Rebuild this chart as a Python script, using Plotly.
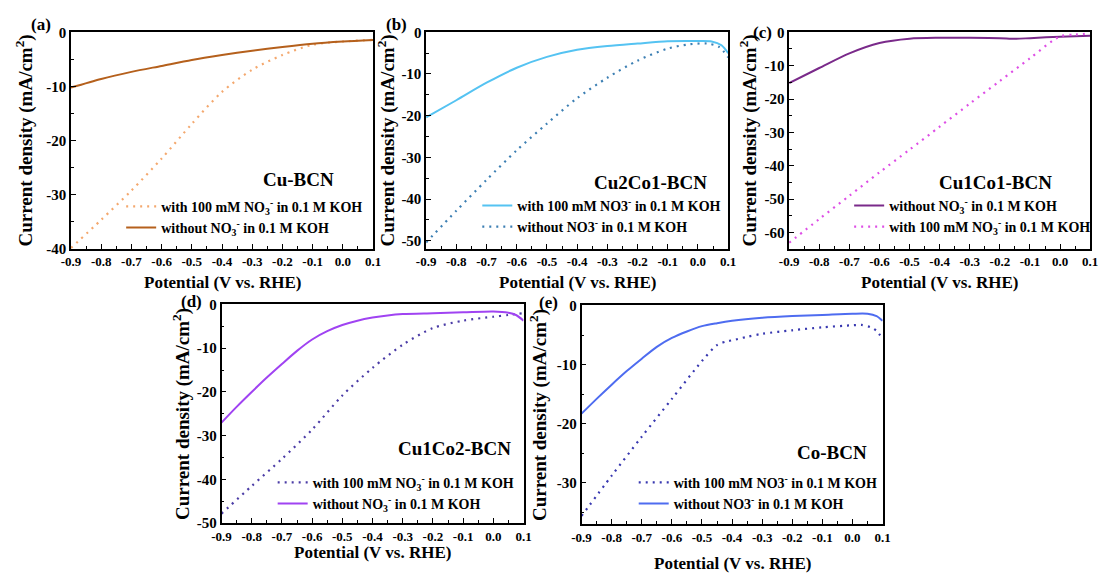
import plotly.graph_objects as go

W, H = 1109, 573

# ---------------- data ----------------
V = [-0.9, -0.8, -0.7, -0.6, -0.5, -0.4, -0.3, -0.2, -0.1, 0.0, 0.1]

# (a) Cu-BCN
a_with_x = [-0.9, -0.8, -0.7, -0.6, -0.5, -0.4, -0.3, -0.2, -0.1, 0.0, 0.1]
a_with_y = [-39.8, -34.6, -29.2, -23.3, -16.9, -11.0, -6.9, -4.2, -2.3, -1.7, -1.4]
a_without_x = V
a_without_y = [-10.2, -8.6, -7.3, -6.2, -5.1, -4.2, -3.4, -2.7, -2.1, -1.7, -1.4]

# (b) Cu2Co1-BCN
b_with_x = [-0.9, -0.8, -0.7, -0.6, -0.5, -0.4, -0.3, -0.2, -0.1, 0.0, 0.045, 0.078, 0.1]
b_with_y = [-20.4, -16.3, -12.1, -8.5, -5.9, -4.2, -3.3, -2.7, -2.15, -2.1, -2.2, -3.1, -5.0]
b_without_x = [-0.9, -0.8, -0.7, -0.6, -0.5, -0.4, -0.3, -0.2, -0.1, -0.03, 0.03, 0.07, 0.1]
b_without_y = [-50.4, -42.8, -35.4, -28.3, -21.9, -15.8, -10.9, -6.8, -3.9, -2.9, -2.7, -3.5, -6.0]

# (c) Cu1Co1-BCN
c_without_x = [-0.9, -0.8, -0.7, -0.6, -0.5, -0.4, -0.3, -0.2, -0.15, -0.1, 0.0, 0.1]
c_without_y = [-15.2, -10.7, -6.3, -3.2, -1.9, -1.65, -1.65, -1.75, -1.95, -1.75, -1.3, -1.0]
c_with_x = [-0.9, -0.8, -0.7, -0.6, -0.5, -0.4, -0.3, -0.2, -0.1, 0.0, 0.05, 0.1]
c_with_y = [-63.1, -56.0, -49.0, -42.0, -35.2, -28.3, -21.4, -14.6, -7.8, -1.2, -0.7, -0.4]

# (d) Cu1Co2-BCN
d_with_x = [-0.9, -0.8, -0.7, -0.6, -0.5, -0.4, -0.3, -0.2, -0.1, 0.0, 0.05, 0.1]
d_with_y = [-47.8, -41.5, -35.3, -28.6, -20.8, -14.5, -9.2, -5.4, -3.7, -2.8, -2.4, -2.0]
d_without_x = [-0.9, -0.85, -0.8, -0.75, -0.7, -0.65, -0.6, -0.55, -0.5, -0.45, -0.4, -0.35, -0.3,
               -0.2, -0.1, 0.0, 0.05, 0.075, 0.1]
d_without_y = [-27.0, -23.4, -20.0, -16.7, -13.6, -10.6, -8.0, -6.1, -4.7, -3.7, -3.0, -2.5, -2.2,
               -2.0, -1.8, -1.6, -1.9, -2.4, -3.7]

# (e) Co-BCN
e_with_x = [-0.9, -0.8, -0.7, -0.6, -0.5, -0.45, -0.42, -0.4, -0.35, -0.3, -0.2, -0.1, 0.0, 0.03, 0.06, 0.08, 0.1]
e_with_y = [-35.6, -28.8, -22.2, -15.8, -9.4, -6.7, -6.1, -5.9, -5.3, -4.8, -4.2, -3.7, -3.35, -3.3, -3.7, -4.3, -5.7]
e_without_x = [-0.9, -0.85, -0.8, -0.75, -0.7, -0.65, -0.6, -0.55, -0.5, -0.45, -0.4,
               -0.3, -0.2, -0.1, 0.0, 0.05, 0.08, 0.1]
e_without_y = [-18.3, -15.8, -13.4, -11.1, -9.0, -7.0, -5.5, -4.4, -3.5, -3.0, -2.6,
               -2.1, -1.8, -1.6, -1.4, -1.4, -1.8, -2.6]

x_tickvals = [-0.9, -0.8, -0.7, -0.6, -0.5, -0.4, -0.3, -0.2, -0.1, 0.0, 0.1]
x_ticktext = ["-0.9", "-0.8", "-0.7", "-0.6", "-0.5", "-0.4", "-0.3", "-0.2", "-0.1", "0.0", "0.1"]

a_yticks = [0, -10, -20, -30, -40]
b_yticks = [0, -10, -20, -30, -40, -50]
c_yticks = [0, -10, -20, -30, -40, -50, -60]
d_yticks = [0, -10, -20, -30, -40, -50]
e_yticks = [0, -10, -20, -30]

samples = ["Cu-BCN", "Cu2Co1-BCN", "Cu1Co1-BCN", "Cu1Co2-BCN", "Co-BCN"]
panel_tags = ["(a)", "(b)", "(c)", "(d)", "(e)"]

LBL_WITH_SUB = "with 100 mM NO<sub>3</sub><sup>-</sup> in 0.1 M KOH"
LBL_WITHOUT_SUB = "without NO<sub>3</sub><sup>-</sup> in 0.1 M KOH"
LBL_WITH_PLAIN = "with 100 mM NO3<sup>-</sup> in 0.1 M KOH"
LBL_WITHOUT_PLAIN = "without NO3<sup>-</sup> in 0.1 M KOH"

# ---------------- layout helpers ----------------
FONT = "'Liberation Serif', 'Times New Roman', Times, serif"
DOT = "2px,5px"

def px_x(p):
    return p / W

def px_y(p):
    return 1 - p / H

# plot rectangles in pixels: left, right, top, bottom
panels = [
    dict(box=(62, 369, 25, 248), yr=[-40, 0], yt=a_yticks, leg=(113, 188)),
    dict(box=(423, 730, 25, 248), yr=[-52, 0], yt=b_yticks, leg=(475, 187)),
    dict(box=(792, 1098, 25, 248), yr=[-65, 0], yt=c_yticks, leg=(853, 187)),
    dict(box=(215, 522, 305, 530), yr=[-50, 0], yt=d_yticks, leg=(267, 472)),
    dict(box=(581, 887, 306, 531), yr=[-37, 0], yt=e_yticks, leg=(634, 472)),
]

series = [
    [(a_with_x, a_with_y, "#f4a86e", DOT, LBL_WITH_SUB),
     (a_without_x, a_without_y, "#b5601c", "solid", LBL_WITHOUT_SUB)],
    [(b_with_x, b_with_y, "#55c3f2", "solid", LBL_WITH_PLAIN),
     (b_without_x, b_without_y, "#3c7fb3", DOT, LBL_WITHOUT_PLAIN)],
    [(c_without_x, c_without_y, "#7a2a8a", "solid", LBL_WITHOUT_SUB),
     (c_with_x, c_with_y, "#de4fe6", DOT, LBL_WITH_SUB)],
    [(d_with_x, d_with_y, "#4b3ca6", DOT, LBL_WITH_SUB),
     (d_without_x, d_without_y, "#a043f2", "solid", LBL_WITHOUT_SUB)],
    [(e_with_x, e_with_y, "#3838b0", DOT, LBL_WITH_PLAIN),
     (e_without_x, e_without_y, "#4e6cf0", "solid", LBL_WITHOUT_PLAIN)],
]

tag_pos = [(32, 17), (393, 17), (765, 25), (184, 302), (547, 303)]
sample_pos = [(293, 176), (651, 180), (1002, 180), (452, 453), (836, 457)]
ytitle_x = [15, 383, 751, 175, 538]
# x-title placement: (pixel y, anchor, yshift)
xtitle_y = [(282, "middle", 0), (282, "middle", 0), (282, "middle", 0), (552, "middle", -8), (565, "middle", -6)]

fig = go.Figure()
layout = dict(
    width=W, height=H, margin=dict(l=0, r=0, t=0, b=0),
    paper_bgcolor="white", plot_bgcolor="white",
    font=dict(family=FONT, color="black"),
    annotations=[],
)

for i, (p, ser) in enumerate(zip(panels, series)):
    n = i + 1
    sfx = "" if n == 1 else str(n)
    L, R, T, B = p["box"]
    legname = "legend" if n == 1 else f"legend{n}"
    for (xs, ys, col, dash, name) in ser:
        fig.add_trace(go.Scatter(
            x=xs, y=ys, mode="lines", name=name,
            line=dict(color=col, width=2 if dash == "solid" else 2.2, dash=dash, shape="spline", smoothing=0.8),
            xaxis=f"x{sfx}", yaxis=f"y{sfx}", legend=legname, showlegend=True,
            cliponaxis=True,
        ))
    axcommon = dict(
        showline=True, linecolor="black", linewidth=1.5, mirror=True,
        ticks="inside", ticklen=5, tickwidth=1.3, tickcolor="black",
        showgrid=False, zeroline=False,
    )
    layout[f"xaxis{sfx}"] = dict(
        domain=[px_x(L), px_x(R)], anchor=f"y{sfx}", range=[-0.9, 0.1],
        tickvals=x_tickvals, ticktext=x_ticktext,
        tickfont=dict(family=FONT, size=13, weight="bold", color="black"),
        minor=dict(ticks="inside", ticklen=3, tickwidth=1.1, dtick=0.05, tick0=0, tickcolor="black", showgrid=False),
        **axcommon,
    )
    layout[f"yaxis{sfx}"] = dict(
        domain=[px_y(B), px_y(T)], anchor=f"x{sfx}", range=p["yr"],
        tickvals=p["yt"], ticktext=[str(v) for v in p["yt"]],
        tickfont=dict(family=FONT, size=15, weight="bold", color="black"),
        minor=dict(ticks="inside", ticklen=3, tickwidth=1.1, dtick=5, tick0=0, tickcolor="black", showgrid=False),
        **axcommon,
    )
    lx, ly = p["leg"]
    layout[legname] = dict(
        x=px_x(lx), y=px_y(ly), xanchor="left", yanchor="top",
        bgcolor="rgba(0,0,0,0)", borderwidth=0, itemwidth=30,
        font=dict(family=FONT, size=14, weight="bold", color="black"),
        tracegroupgap=0, itemclick=False,
    )
    # panel tag
    tx, ty = tag_pos[i]
    layout["annotations"].append(dict(
        x=px_x(tx), y=px_y(ty), xref="paper", yref="paper", text=f"<b>{panel_tags[i]}</b>",
        showarrow=False, font=dict(family=FONT, size=17, color="black"), xanchor="center", yanchor="middle"))
    # sample label
    sx, sy = sample_pos[i]
    layout["annotations"].append(dict(
        x=px_x(sx), y=px_y(sy), xref="paper", yref="paper", text=f"<b>{samples[i]}</b>",
        showarrow=False, font=dict(family=FONT, size=19, color="black"), xanchor="center", yanchor="middle"))
    # x title
    ty_px, tanchor, tshift = xtitle_y[i]
    layout["annotations"].append(dict(
        x=px_x((L + R) / 2), y=px_y(ty_px), xref="paper", yref="paper",
        text="<b>Potential (V vs. RHE)</b>", showarrow=False, borderpad=0, yshift=tshift,
        font=dict(family=FONT, size=17, color="black"), xanchor="center", yanchor=tanchor))
    # y title
    layout["annotations"].append(dict(
        x=px_x(ytitle_x[i]), y=px_y((T + B) / 2), xref="paper", yref="paper",
        text="<b>Current density (mA/cm<sup>2</sup>)</b>", showarrow=False, textangle=-90,
        font=dict(family=FONT, size=19, color="black"), xanchor="center", yanchor="middle"))

fig.update_layout(**layout)
fig.write_html("out.html")
